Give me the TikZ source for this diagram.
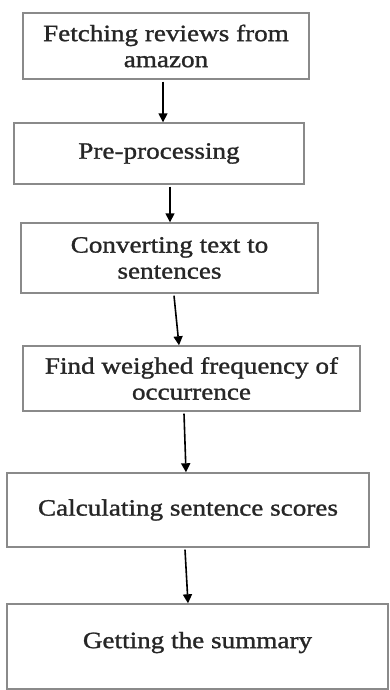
\documentclass[tikz,border=0pt]{standalone}
\usepackage{fontspec}
\setmainfont{Liberation Serif}[FakeStretch=1.16,FakeBold=1.2]
\usetikzlibrary{arrows.meta}
\definecolor{boxline}{HTML}{8A8A8A}
\definecolor{txt}{HTML}{262626}
\begin{document}
\begin{tikzpicture}[x=1pt,y=1pt,
  stepbox/.style={draw=boxline, line width=1.4pt, inner sep=0pt, align=center,
    text=txt, font=\fontsize{23.4}{26}\selectfont},
  arr/.style={draw=black, line width=1.6pt, -{Triangle[length=9pt,width=9pt]}}]
\useasboundingbox[fill=white] (0,0) rectangle (390,-690);
\node[stepbox, minimum width=286pt, minimum height=66pt] (b1) at (166,-46) {Fetching reviews from\\amazon};
\node[stepbox, minimum width=290pt, minimum height=61pt] (b2) at (159,-153.5) {Pre-processing};
\node[stepbox, minimum width=297pt, minimum height=70pt] (b3) at (169.5,-258) {Converting text to\\sentences};
\node[stepbox, minimum width=337pt, minimum height=65pt] (b4) at (191.5,-378.5) {Find weighed frequency of\\occurrence};
\node[stepbox, minimum width=362pt, minimum height=74pt] (b5) at (188,-510) {Calculating sentence scores};
\node[stepbox, minimum width=381pt, minimum height=85pt, text depth=13pt] (b6) at (197.5,-646.5) {Getting the summary};
\draw[arr] ([xshift=-3pt,yshift=-2pt]b1.south) -- ([xshift=4pt]b2.north);
\draw[arr] ([xshift=11pt,yshift=-2pt]b2.south) -- ([xshift=0.5pt]b3.north);
\draw[arr] ([xshift=4.5pt,yshift=-2pt]b3.south) -- ([xshift=-12.5pt]b4.north);
\draw[arr] ([xshift=-7.5pt,yshift=-2pt]b4.south) -- ([xshift=-2pt]b5.north);
\draw[arr] ([xshift=-3pt,yshift=-2pt]b5.south) -- ([xshift=-9.5pt]b6.north);
\end{tikzpicture}
\end{document}
